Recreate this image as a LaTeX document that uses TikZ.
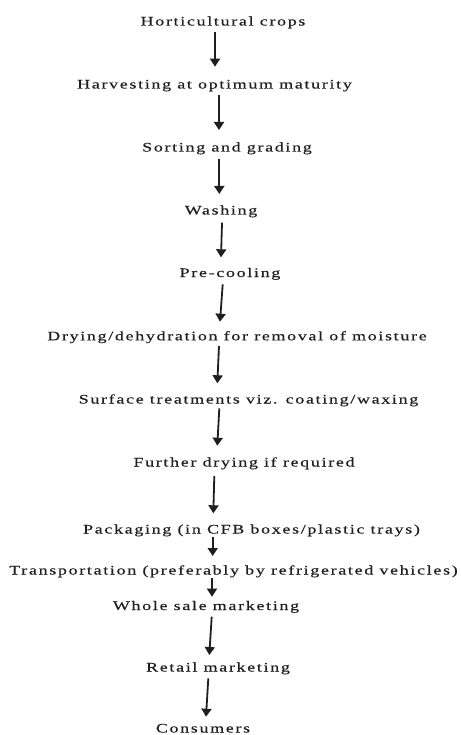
\documentclass[tikz,border=0pt]{standalone}
\usepackage{fontspec}
\setmainfont{Liberation Serif}[FakeStretch=1.38,LetterSpace=13,FakeBold=0.4]
\usetikzlibrary{arrows.meta}
\definecolor{ink}{rgb}{0.12,0.12,0.12}
\tikzset{
  stage/.style={anchor=base, inner sep=0pt, text=ink, font=\fontsize{13}{15}\selectfont},
  flow/.style={draw=ink, line width=1.8pt, -{Triangle[width=10pt,length=8pt]}}
}
\begin{document}
\begin{tikzpicture}[x=1pt,y=-1pt]
\useasboundingbox (0,0) rectangle (460,735);
% process stages (positioned on their baselines)
\node[stage] (s1)  at (223,25.5)  {Horticultural crops};
\node[stage] (s2)  at (214.5,88.5) {Harvesting at optimum maturity};
\node[stage] (s3)  at (227,151.5) {Sorting and grading};
\node[stage] (s4)  at (221,214.5) {Washing};
\node[stage] (s5)  at (230,277)   {Pre-cooling};
\node[stage] (s6)  at (237,340.3) {Drying/dehydration for removal of moisture};
\node[stage] (s7)  at (248.5,403.5) {Surface treatments viz. coating/waxing};
\node[stage] (s8)  at (244,466.5) {Further drying if required};
\node[stage] (s9)  at (251.5,533.5) {Packaging (in CFB boxes/plastic trays)};
\node[stage] (s10) at (233.5,574.5) {Transportation (preferably by refrigerated vehicles)};
\node[stage] (s11) at (206,610)   {Whole sale marketing};
\node[stage] (s12) at (218,671.5) {Retail marketing};
\node[stage] (s13) at (203,732.5) {Consumers};
% arrow end points
\coordinate (a1t) at (215,31.7);    \coordinate (a1h) at (215,66.7);
\coordinate (a2t) at (219,95);      \coordinate (a2h) at (219,130);
\coordinate (a3t) at (219.3,159);   \coordinate (a3h) at (219.3,194);
\coordinate (a4t) at (222,222.7);   \coordinate (a4h) at (221,257.3);
\coordinate (a5t) at (222.7,284.3); \coordinate (a5h) at (220,321.7);
\coordinate (a6t) at (219,346);     \coordinate (a6h) at (217.3,383.3);
\coordinate (a7t) at (219.3,408.3); \coordinate (a7h) at (217.3,445.7);
\coordinate (a8t) at (214.3,476);   \coordinate (a8h) at (213.3,513.3);
\coordinate (a9t) at (212.7,537.3); \coordinate (a9h) at (212.7,556);
\coordinate (a10t) at (212,578.3);  \coordinate (a10h) at (212,596.7);
\coordinate (a11t) at (211.7,616.7);\coordinate (a11h) at (209.3,655);
\coordinate (a12t) at (208.3,678.3);\coordinate (a12h) at (206,716.7);
\foreach \i in {1,...,12}{\draw[flow] (a\i t) -- (a\i h);}
\end{tikzpicture}
\end{document}
